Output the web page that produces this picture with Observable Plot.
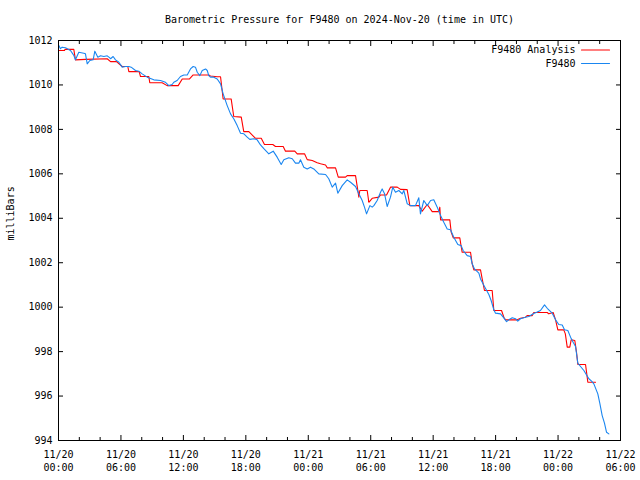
<!DOCTYPE html>
<html><head><meta charset="utf-8">
<script src="https://cdn.jsdelivr.net/npm/d3@7"></script>
<script src="https://cdn.jsdelivr.net/npm/@observablehq/plot@0.6"></script>
<style>body{margin:0;background:#fff}</style>
</head><body><div id="chart"></div>
<script>
const title = "Barometric Pressure for F9480 on 2024-Nov-20 (time in UTC)";
const yLabel = "milliBars";
const seriesNames = ["F9480 Analysis", "F9480"];
const seriesColors = ["#ff0000", "#1a86f0"];
const xTickHours = [0, 6, 12, 18, 24, 30, 36, 42, 48, 54];
const xTickLabels = ["11/20\n00:00", "11/20\n06:00", "11/20\n12:00", "11/20\n18:00", "11/21\n00:00", "11/21\n06:00", "11/21\n12:00", "11/21\n18:00", "11/22\n00:00", "11/22\n06:00"];
const xMinorHours = [2, 4, 8, 10, 14, 16, 20, 22, 26, 28, 32, 34, 38, 40, 44, 46, 50, 52];
const yTicks = [994, 996, 998, 1000, 1002, 1004, 1006, 1008, 1010, 1012];

// hours since 2024-11-20 00:00 UTC
const analysisHours = [0.0,0.58,0.62,1.47,1.63,2.6,4.68,5.0,5.57,6.12,6.66,6.76,7.75,7.88,8.68,8.77,9.96,10.44,11.5,11.89,12.59,12.94,14.44,14.6,15.25,15.57,15.82,16.59,16.84,17.56,17.8,18.29,18.93,19.48,19.79,20.59,20.85,21.59,21.81,22.7,22.94,23.64,23.9,24.38,24.86,25.18,25.66,25.82,26.62,26.88,27.58,27.74,28.54,28.86,28.95,29.66,29.82,30.14,30.78,30.94,31.52,31.9,32.55,32.86,33.5,33.76,34.62,34.95,35.43,35.91,36.54,36.64,36.71,37.6,37.73,37.93,38.56,38.69,38.79,39.59,39.75,39.91,40.55,40.71,40.93,41.67,41.83,42.57,42.79,42.95,44.08,44.39,44.87,45.03,45.52,45.67,46.96,47.11,47.53,47.76,47.98,48.55,48.7,48.88,49.13,49.26,49.61,49.78,49.9,50.64,50.8,50.86,51.6];
const analysisValues = [1011.55,1011.55,1011.6,1011.6,1011.13,1011.15,1011.18,1011.05,1011.05,1010.83,1010.83,1010.6,1010.6,1010.38,1010.38,1010.1,1010.1,1009.97,1009.97,1010.27,1010.27,1010.45,1010.45,1010.4,1010.37,1010.37,1009.37,1009.37,1008.58,1008.55,1007.9,1007.9,1007.6,1007.6,1007.32,1007.32,1007.23,1007.23,1007.02,1007.02,1006.9,1006.9,1006.64,1006.6,1006.5,1006.45,1006.4,1006.27,1006.27,1005.85,1005.85,1005.92,1005.92,1004.95,1005.25,1005.25,1004.72,1004.9,1004.95,1005.05,1005.05,1005.4,1005.4,1005.3,1005.29,1004.57,1004.57,1004.32,1004.62,1004.3,1004.3,1004.5,1003.93,1003.93,1003.38,1003.12,1003.12,1002.73,1002.47,1002.47,1001.95,1001.68,1001.68,1001.27,1000.75,1000.75,999.85,999.85,999.55,999.43,999.43,999.5,999.55,999.62,999.62,999.76,999.76,999.7,999.76,999.43,998.98,998.98,998.8,998.2,998.2,998.53,998.5,997.95,997.42,997.42,996.85,996.62,996.62];

const stationHours = [0.03,0.19,0.35,0.67,1.15,1.47,1.63,1.95,2.43,2.59,2.76,3.01,3.33,3.49,3.78,4.04,4.36,4.68,4.84,5.0,5.25,5.48,5.8,6.12,6.44,6.76,6.98,7.4,7.72,8.04,8.52,9.16,9.8,10.28,10.6,10.92,11.08,11.4,11.72,12.04,12.37,12.68,12.94,13.16,13.33,13.58,13.81,14.13,14.29,14.44,14.6,14.92,15.25,15.57,15.82,16.21,16.53,16.84,17.17,17.49,17.81,18.13,18.38,18.77,19.09,19.41,19.73,20.21,20.63,21.01,21.4,21.65,22.13,22.46,22.77,23.09,23.25,23.57,23.9,24.21,24.53,25.01,25.66,25.97,26.3,26.62,26.84,27.26,27.74,28.06,28.54,28.86,29.18,29.4,29.6,29.92,30.14,30.3,30.62,30.94,31.1,31.33,31.58,31.9,32.12,32.38,32.7,33.03,33.18,33.51,33.82,34.3,34.62,34.78,35.1,35.43,35.75,36.06,36.39,36.71,37.02,37.35,37.67,37.98,38.37,38.69,38.88,39.27,39.59,39.75,39.97,40.39,40.55,40.93,41.35,41.57,41.83,41.99,42.47,42.73,43.05,43.27,43.6,43.91,44.13,44.39,44.87,45.19,45.61,46.0,46.31,46.7,46.96,47.44,47.76,48.07,48.4,48.62,48.94,49.2,49.45,49.68,49.9,50.16,50.48,50.74,50.96,51.22,51.44,51.82,52.01,52.24,52.46,52.66,52.88];
const stationValues = [1011.78,1011.63,1011.7,1011.67,1011.55,1011.33,1011.13,1011.47,1011.43,1011.4,1010.95,1011.1,1011.13,1011.52,1011.25,1011.31,1011.28,1011.31,1011.25,1011.18,1011.28,1011.13,1011.02,1010.8,1010.83,1010.83,1010.8,1010.65,1010.62,1010.5,1010.35,1010.23,1010.2,1010.12,1009.97,1010.02,1010.12,1010.2,1010.38,1010.45,1010.45,1010.72,1010.83,1010.8,1010.57,1010.42,1010.65,1010.72,1010.65,1010.42,1010.35,1010.35,1010.27,1010.05,1009.6,1009.07,1008.7,1008.48,1008.17,1007.83,1007.8,1007.65,1007.55,1007.58,1007.53,1007.3,1007.13,1006.9,1007.02,1006.75,1006.42,1006.63,1006.72,1006.68,1006.48,1006.48,1006.63,1006.3,1006.22,1006.3,1006.22,1006.0,1005.97,1005.78,1005.4,1005.58,1005.13,1005.47,1005.73,1005.62,1005.43,1005.1,1004.8,1004.5,1004.2,1004.57,1004.5,1004.57,1004.8,1005.17,1005.32,1005.1,1004.53,1004.95,1005.4,1005.17,1005.25,1005.1,1005.25,1004.65,1004.57,1004.57,1004.92,1004.2,1004.8,1004.57,1004.8,1004.83,1004.5,1004.12,1003.82,1003.52,1003.48,1003.15,1002.82,1002.77,1002.55,1002.32,1002.28,1001.95,1001.72,1001.53,1001.27,1000.93,1000.57,1000.3,999.88,999.73,999.7,999.55,999.35,999.43,999.52,999.48,999.37,999.48,999.55,999.58,999.7,999.78,999.85,1000.1,999.95,999.73,999.43,999.22,999.2,998.98,998.95,998.65,998.42,998.23,997.48,997.33,997.15,996.95,996.78,996.67,996.55,996.1,995.68,995.12,994.78,994.37,994.3];

const analysis = analysisHours.map((h, i) => ({h, v: analysisValues[i]}));
const station = stationHours.map((h, i) => ({h, v: stationValues[i]}));
const lineShape = {draw(context, l) { context.moveTo(0, 0); context.lineTo(0, -l); }};

const chart = Plot.plot({
  width: 640,
  height: 480,
  marginLeft: 58,
  marginRight: 20,
  marginTop: 40,
  marginBottom: 40,
  style: {fontFamily: "'DejaVu Sans Mono', monospace", fontSize: "10px", background: "white", color: "black"},
  x: {domain: [0, 54], label: null},
  y: {domain: [994, 1012], label: null},
  marks: [
    Plot.axisX(xMinorHours, {anchor: "bottom", tickSize: -3, tickFormat: () => ""}),
    Plot.axisX(xMinorHours, {anchor: "top", tickSize: -3, tickFormat: () => ""}),
    Plot.axisX(xTickHours, {anchor: "bottom", tickSize: -5, tickPadding: 13, lineHeight: 1.3, tickFormat: d => xTickLabels[xTickHours.indexOf(d)]}),
    Plot.axisX(xTickHours, {anchor: "top", tickSize: -5, tickFormat: () => ""}),
    Plot.axisY(yTicks, {anchor: "left", tickSize: -5, tickPadding: 11, tickFormat: d => String(d)}),
    Plot.axisY(yTicks, {anchor: "right", tickSize: -5, tickFormat: () => ""}),
    Plot.line(analysis, {x: "h", y: "v", stroke: seriesColors[0], strokeWidth: 1.1}),
    Plot.line(station, {x: "h", y: "v", stroke: seriesColors[1], strokeWidth: 1.1}),
    Plot.frame({stroke: "black"}),
    Plot.text([title], {frameAnchor: "top", lineAnchor: "middle", dy: -21, fontSize: 10}),
    Plot.text([yLabel], {frameAnchor: "left", dx: -48, rotate: -90, fontSize: 10}),
    Plot.text([seriesNames[0]], {frameAnchor: "top-right", lineAnchor: "middle", dx: -45, dy: 9.5, textAnchor: "end"}),
    Plot.text([seriesNames[1]], {frameAnchor: "top-right", lineAnchor: "middle", dx: -45, dy: 23, textAnchor: "end"}),
    Plot.vector([0], {frameAnchor: "top-right", dx: -39, dy: 9.5, rotate: 90, length: 28, anchor: "start", shape: lineShape, stroke: seriesColors[0], strokeWidth: 1.1}),
    Plot.vector([0], {frameAnchor: "top-right", dx: -39, dy: 23, rotate: 90, length: 28, anchor: "start", shape: lineShape, stroke: seriesColors[1], strokeWidth: 1.1})
  ]
});
document.getElementById("chart").appendChild(chart);
</script>
</body></html>
